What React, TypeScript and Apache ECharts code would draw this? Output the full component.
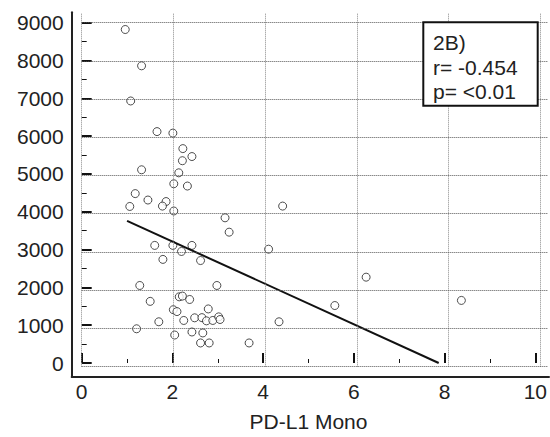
import React, { useEffect, useRef } from "react";
import * as echarts from "echarts";

const xValues = [
  0.96, 1.32, 1.08, 1.66, 2.01, 2.23, 2.43, 2.22, 1.32, 2.14, 2.03, 2.33, 1.18, 1.46,
  1.86, 1.06, 1.78, 2.03, 3.16, 3.25, 1.61, 2.01, 2.43, 2.2, 4.12, 1.79, 2.62, 1.28,
  2.98, 1.51, 2.15, 2.22, 2.38, 2.02, 2.1, 2.79, 1.7, 2.25, 2.49, 2.65, 2.75, 2.89,
  3.02, 3.05, 1.21, 2.05, 2.43, 2.67, 2.62, 2.81, 3.69, 4.43, 6.27, 5.58, 4.35, 8.37,
];
const yValues = [
  8820, 7860, 6930, 6120, 6080, 5670, 5460, 5350, 5110, 5030, 4740, 4680, 4480, 4310,
  4270, 4140, 4150, 4020, 3840, 3460, 3110, 3110, 3110, 2950, 3010, 2740, 2710, 2050,
  2050, 1630, 1750, 1770, 1680, 1410, 1360, 1430, 1090, 1125, 1195, 1200, 1115, 1125,
  1220, 1150, 905, 740, 820, 795, 530, 530, 530, 4150, 2270, 1520, 1090, 1655,
];
const fitX = [1.0, 7.87];
const fitY = [3760, 0];
const xGridValues = [0, 2, 4, 6, 8, 10];
const yGridValues = [0, 1000, 2000, 3000, 4000, 5000, 6000, 7000, 8000, 9000];
const xMin = 0;
const xMax = 10;
const xStep = 2;
const yMin = 0;
const yMax = 9000;
const yStep = 1000;
const xTitle = "PD-L1 Mono";
const boxLines = ["2B)", "r= -0.454", "p= <0.01"];

const FONT = '"Liberation Sans", Arial, Helvetica, sans-serif';
const TXT = "#222";

export default function App() {
  const ref = useRef<HTMLDivElement>(null);
  useEffect(() => {
    if (!ref.current) return;
    const chart = echarts.init(ref.current, null, { renderer: "svg" });
    const points = xValues.map((x, i) => [x, yValues[i]]);
    const fit = fitX.map((x, i) => [x, fitY[i]]);
    const plain = (v: number) => String(v);
    const off = { show: false };
    const xExt = xMax + 0.17;
    const yExt = yMax + 250;
    const bare = (extra: any) => ({
      type: "value",
      axisLine: { show: false },
      axisTick: { show: false },
      axisLabel: { show: false },
      splitLine: { show: false },
      ...extra,
    });
    const vLines = xGridValues.map((x) => [
      { coord: [x, yMin], lineStyle: { type: "dotted", color: "#888", width: 1 } },
      { coord: [x, yExt] },
    ]);
    const hLines = yGridValues.map((y) => [
      { coord: [xMin, y], lineStyle: { type: "dotted", color: "#555", width: 1 } },
      { coord: [xExt, y] },
    ]);
    chart.setOption({
      animation: false,
      backgroundColor: "#fff",
      textStyle: { fontFamily: FONT },
      grid: [
        // 0: data grid
        { left: 81.7, right: 10.2, top: 22.7, bottom: 70.3 },
        // 1: grid-line grid (a little larger than the last ticks)
        { left: 81.7, right: 2, top: 13, bottom: 70.3 },
        // 2: axis-line frame
        { left: 71.7, right: 1, top: 12.3, bottom: 60.3 },
      ],
      xAxis: [
        {
          type: "value",
          gridIndex: 0,
          min: xMin,
          max: xMax,
          interval: xStep,
          offset: 10,
          axisLine: off,
          axisTick: {
            show: true,
            inside: true,
            length: 10,
            lineStyle: { color: "#111", width: 2 },
          },
          minorTick: {
            show: true,
            splitNumber: 2,
            length: 4,
            lineStyle: { color: "#111", width: 1 },
          },
          axisLabel: {
            formatter: plain,
            fontSize: 21,
            color: TXT,
            margin: 8,
            fontFamily: FONT,
          },
          splitLine: off,
          name: xTitle,
          nameLocation: "middle",
          nameGap: 38,
          nameTextStyle: { fontSize: 21, color: TXT, fontFamily: FONT },
        },
        bare({ gridIndex: 1, min: xMin, max: xExt }),
        bare({
          gridIndex: 2,
          min: 0,
          max: 1,
          axisLine: { show: true, lineStyle: { color: TXT, width: 2 } },
        }),
      ],
      yAxis: [
        {
          type: "value",
          gridIndex: 0,
          min: yMin,
          max: yMax,
          interval: yStep,
          offset: 10,
          axisLine: off,
          axisTick: {
            show: true,
            inside: true,
            length: 10,
            lineStyle: { color: "#111", width: 2 },
          },
          minorTick: {
            show: true,
            splitNumber: 2,
            length: 5,
            lineStyle: { color: "#111", width: 1 },
          },
          axisLabel: {
            formatter: plain,
            fontSize: 21,
            color: TXT,
            margin: 8,
            fontFamily: FONT,
          },
          splitLine: off,
        },
        bare({ gridIndex: 1, min: yMin, max: yExt }),
        bare({
          gridIndex: 2,
          min: 0,
          max: 1,
          axisLine: { show: true, lineStyle: { color: TXT, width: 2 } },
        }),
      ],
      series: [
        {
          type: "line",
          name: "grid",
          xAxisIndex: 1,
          yAxisIndex: 1,
          data: [],
          silent: true,
          z: 1,
          markLine: {
            silent: true,
            symbol: ["none", "none"],
            label: { show: false },
            emphasis: { disabled: true },
            data: [...vLines, ...hLines],
          },
        },
        {
          type: "scatter",
          xAxisIndex: 0,
          yAxisIndex: 0,
          data: points,
          symbol: "circle",
          symbolSize: 8,
          itemStyle: { color: "#fff", borderColor: "#222", borderWidth: 1 },
          z: 3,
        },
        {
          type: "line",
          xAxisIndex: 0,
          yAxisIndex: 0,
          data: fit,
          showSymbol: false,
          symbol: "none",
          lineStyle: { color: "#111", width: 2 },
          z: 4,
        },
      ],
      graphic: [
        {
          type: "rect",
          shape: { x: 423.3, y: 22.3, width: 114.4, height: 83.5 },
          style: { fill: "#fff", stroke: "#111", lineWidth: 2 },
          z: 10,
        },
        ...boxLines.map((t, i) => ({
          type: "text",
          x: 433,
          y: 42.5 + i * 24.5,
          style: {
            text: t,
            fontSize: 21,
            fontFamily: FONT,
            fill: TXT,
            verticalAlign: "middle",
          },
          z: 11,
        })),
      ],
    });
    return () => chart.dispose();
  }, []);
  return (
    <div
      ref={ref}
      style={{ position: "fixed", left: 0, top: 0, width: 550, height: 437 }}
    />
  );
}
